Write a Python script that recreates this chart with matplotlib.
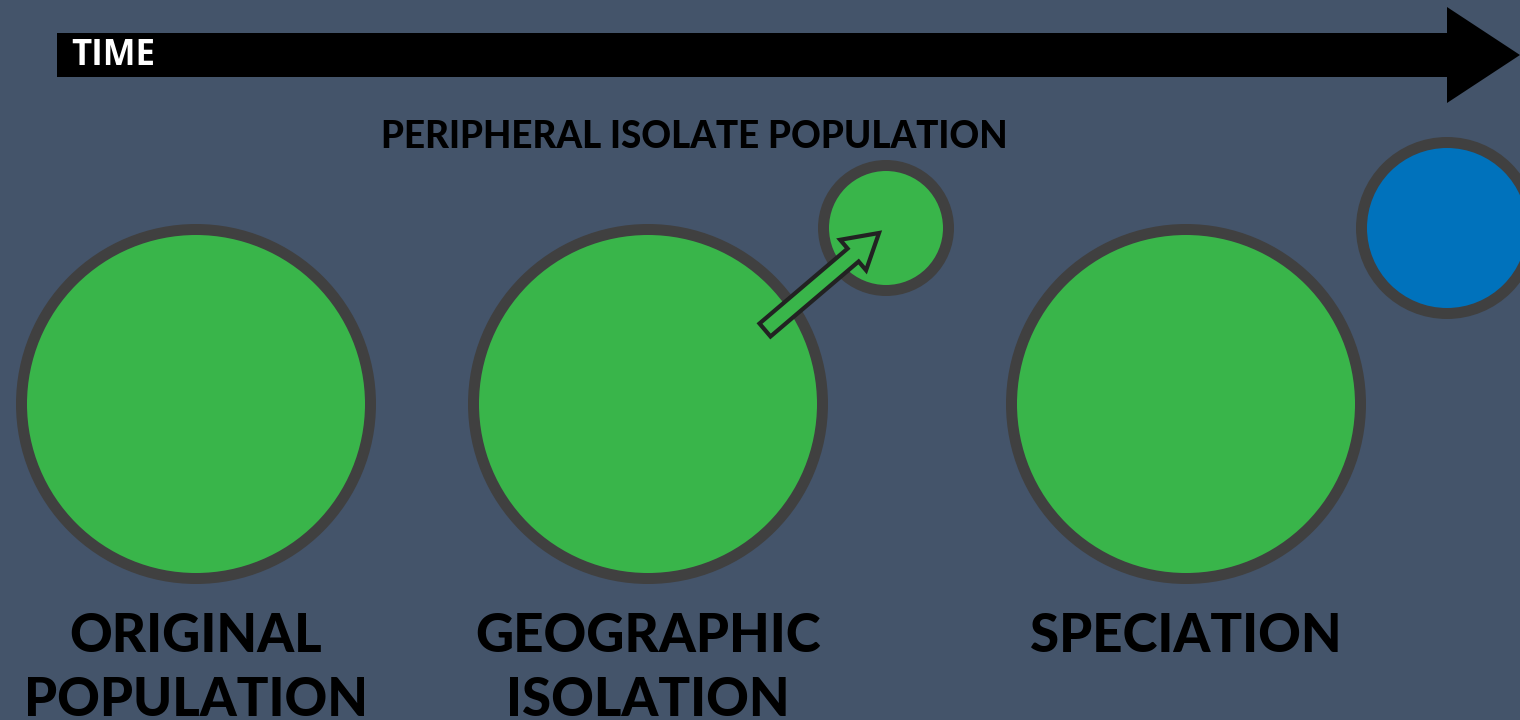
import matplotlib
matplotlib.use("Agg")
import matplotlib.pyplot as plt
from matplotlib.patches import Circle, FancyArrow

# circles: centre x, centre y, outer radius (pixel space, y down)
circle_x = [196, 648, 1186, 886, 1447]
circle_y = [404, 404, 404, 228, 228]
circle_r = [180, 180, 180, 68, 91]
circle_colors = ["#39b54a", "#39b54a", "#39b54a", "#39b54a", "#0072bc"]

# stage labels
stage_labels = ["ORIGINAL\nPOPULATION", "GEOGRAPHIC\nISOLATION", "SPECIATION"]
stage_x = [196, 648, 1186]

# arrows
time_start, time_end, time_y = 57, 1520, 55
move_start = (765, 330)
move_end = (879, 233)

bg = "#44546a"
ring = "#404040"

fig = plt.figure(figsize=(15.2, 7.2), dpi=100)
fig.patch.set_facecolor(bg)
ax = fig.add_axes([0, 0, 1, 1])
ax.set_facecolor(bg)
ax.set_xlim(0, 1520)
ax.set_ylim(720, 0)
ax.set_aspect("equal")
ax.axis("off")

lw_px = 11
lw_pt = lw_px * 72 / 100
for x, y, r, c in zip(circle_x, circle_y, circle_r, circle_colors):
    ax.add_patch(Circle((x, y), r - lw_px / 2, facecolor=c, edgecolor=ring, lw=lw_pt))

# time arrow
ax.add_patch(FancyArrow(time_start, time_y, time_end - time_start, 0, width=44,
                        head_width=96, head_length=73, length_includes_head=True,
                        color="black", lw=0))
ax.text(71, time_y + 1, "TIME", color="white", fontsize=25, fontweight="bold",
        family=["Open Sans", "DejaVu Sans"], va="center", ha="left")

# migration arrow
dx = move_end[0] - move_start[0]
dy = move_end[1] - move_start[1]
ax.add_patch(FancyArrow(move_start[0], move_start[1], dx, dy, width=17,
                        head_width=40, head_length=34, length_includes_head=True,
                        facecolor="#39b54a", edgecolor="#222222", lw=3, joinstyle="miter"))

ax.text(694, 137, "PERIPHERAL ISOLATE POPULATION", color="black", fontsize=26.5,
        fontweight="black", family=["Lato", "DejaVu Sans"], ha="center", va="center")

for x, lab in zip(stage_x, stage_labels):
    ax.text(x, 612, lab, color="black", fontsize=38, fontweight="black",
            family=["Lato", "DejaVu Sans"], ha="center", va="top", linespacing=1.38)

fig.savefig("out.png", dpi=100, facecolor=bg)
